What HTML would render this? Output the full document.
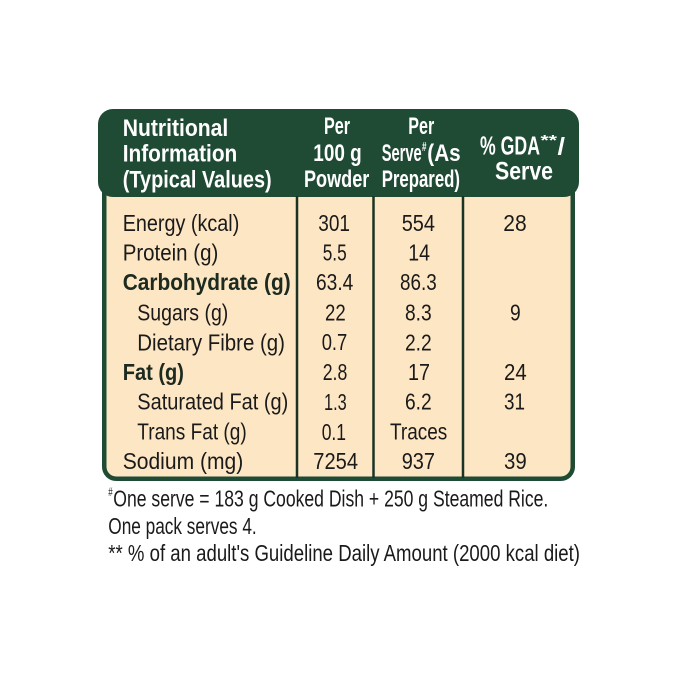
<!DOCTYPE html>
<html>
<head>
<meta charset="utf-8">
<style>
html,body{margin:0;padding:0;background:#ffffff;}
svg{display:block;}
text{font-family:"Liberation Sans",sans-serif;}
.h{font-weight:bold;font-size:24px;fill:#ffffff;}
.b{font-size:23px;fill:#1a1a1a;}
.bb{font-size:23px;font-weight:bold;fill:#1c2a1f;}
</style>
</head>
<body>
<svg width="679" height="679" viewBox="0 0 679 679" xmlns="http://www.w3.org/2000/svg">
<rect x="0" y="0" width="679" height="679" fill="#ffffff"/>
<!-- body -->
<path d="M104.25,180 V466.75 A12,12 0 0 0 116.25,478.75 H560.75 A12,12 0 0 0 572.75,466.75 V180 Z" fill="#fde6c3" stroke="#1f4a34" stroke-width="4.5"/>
<!-- header -->
<rect x="98" y="109" width="481" height="88" rx="15" ry="15" fill="#1f4a34"/>
<!-- dividers -->
<line x1="297" y1="196" x2="297" y2="478" stroke="#1a3325" stroke-width="2.5"/>
<line x1="373.5" y1="196" x2="373.5" y2="478" stroke="#1a3325" stroke-width="2.5"/>
<line x1="463" y1="196" x2="463" y2="478" stroke="#1a3325" stroke-width="2.5"/>

<!-- header text -->
<text class="h" x="122.7" y="136" textLength="105.6" lengthAdjust="spacingAndGlyphs">Nutritional</text>
<text class="h" x="122.7" y="161.7" textLength="114.6" lengthAdjust="spacingAndGlyphs">Information</text>
<text class="h" x="122.7" y="187.5" textLength="149" lengthAdjust="spacingAndGlyphs">(Typical Values)</text>

<text class="h" x="324" y="134" textLength="26" lengthAdjust="spacingAndGlyphs">Per</text>
<text class="h" x="313.3" y="161" textLength="48.4" lengthAdjust="spacingAndGlyphs">100 g</text>
<text class="h" x="304" y="187" textLength="65.3" lengthAdjust="spacingAndGlyphs">Powder</text>

<text class="h" x="408.3" y="134" textLength="26" lengthAdjust="spacingAndGlyphs">Per</text>
<text class="h" x="381.7" y="161" textLength="40" lengthAdjust="spacingAndGlyphs">Serve</text>
<text class="h" x="422" y="151" style="font-size:13px" textLength="4.5" lengthAdjust="spacingAndGlyphs">#</text>
<text class="h" x="427.3" y="161" textLength="33.4" lengthAdjust="spacingAndGlyphs">(As</text>
<text class="h" x="381.7" y="187" textLength="78.3" lengthAdjust="spacingAndGlyphs">Prepared)</text>

<text class="h" x="480" y="154.5" style="font-size:26px" textLength="60" lengthAdjust="spacingAndGlyphs">% GDA</text>
<text class="h" x="540.5" y="145" style="font-size:15px" textLength="16.5" lengthAdjust="spacingAndGlyphs">**</text>
<text class="h" x="557.5" y="154.5" style="font-size:24px" textLength="7.5" lengthAdjust="spacingAndGlyphs">/</text>
<text class="h" x="495" y="179.5" style="font-size:25px" textLength="58" lengthAdjust="spacingAndGlyphs">Serve</text>

<!-- labels -->
<text class="b" x="122.7" y="231" textLength="116.6" lengthAdjust="spacingAndGlyphs">Energy (kcal)</text>
<text class="b" x="122.7" y="260.5" textLength="95.6" lengthAdjust="spacingAndGlyphs">Protein (g)</text>
<text class="bb" x="122.7" y="290" textLength="168" lengthAdjust="spacingAndGlyphs">Carbohydrate (g)</text>
<text class="b" x="137.3" y="320.5" textLength="91" lengthAdjust="spacingAndGlyphs">Sugars (g)</text>
<text class="b" x="137.3" y="350.5" textLength="147.7" lengthAdjust="spacingAndGlyphs">Dietary Fibre (g)</text>
<text class="bb" x="122.7" y="380" textLength="61.3" lengthAdjust="spacingAndGlyphs">Fat (g)</text>
<text class="b" x="137.3" y="409.7" textLength="151" lengthAdjust="spacingAndGlyphs">Saturated Fat (g)</text>
<text class="b" x="137.3" y="439.3" textLength="109.4" lengthAdjust="spacingAndGlyphs">Trans Fat (g)</text>
<text class="b" x="122.7" y="469" textLength="120.6" lengthAdjust="spacingAndGlyphs">Sodium (mg)</text>

<!-- col 2 -->
<text class="b" x="318.3" y="231" textLength="31.7" lengthAdjust="spacingAndGlyphs">301</text>
<text class="b" x="322.7" y="260.7" textLength="24" lengthAdjust="spacingAndGlyphs">5.5</text>
<text class="b" x="316" y="290" textLength="37.3" lengthAdjust="spacingAndGlyphs">63.4</text>
<text class="b" x="325" y="320.3" textLength="20.7" lengthAdjust="spacingAndGlyphs">22</text>
<text class="b" x="321.7" y="350.2" textLength="25.6" lengthAdjust="spacingAndGlyphs">0.7</text>
<text class="b" x="322.7" y="380" textLength="24.6" lengthAdjust="spacingAndGlyphs">2.8</text>
<text class="b" x="324" y="410" textLength="22.7" lengthAdjust="spacingAndGlyphs">1.3</text>
<text class="b" x="321.7" y="439.8" textLength="24.3" lengthAdjust="spacingAndGlyphs">0.1</text>
<text class="b" x="313.3" y="469" textLength="44.7" lengthAdjust="spacingAndGlyphs">7254</text>

<!-- col 3 -->
<text class="b" x="401.7" y="231" textLength="33.3" lengthAdjust="spacingAndGlyphs">554</text>
<text class="b" x="408.3" y="260.5" textLength="21.7" lengthAdjust="spacingAndGlyphs">14</text>
<text class="b" x="400" y="290" textLength="36.7" lengthAdjust="spacingAndGlyphs">86.3</text>
<text class="b" x="405" y="320.5" textLength="26.7" lengthAdjust="spacingAndGlyphs">8.3</text>
<text class="b" x="405" y="350.5" textLength="26.7" lengthAdjust="spacingAndGlyphs">2.2</text>
<text class="b" x="408" y="380" textLength="22" lengthAdjust="spacingAndGlyphs">17</text>
<text class="b" x="405" y="409.7" textLength="26.7" lengthAdjust="spacingAndGlyphs">6.2</text>
<text class="b" x="390" y="439.3" textLength="57.3" lengthAdjust="spacingAndGlyphs">Traces</text>
<text class="b" x="401.7" y="469" textLength="33.3" lengthAdjust="spacingAndGlyphs">937</text>

<!-- col 4 -->
<text class="b" x="503.3" y="231" textLength="23.4" lengthAdjust="spacingAndGlyphs">28</text>
<text class="b" x="510" y="320.5" textLength="10.7" lengthAdjust="spacingAndGlyphs">9</text>
<text class="b" x="504" y="380" textLength="22.7" lengthAdjust="spacingAndGlyphs">24</text>
<text class="b" x="504" y="409.7" textLength="21" lengthAdjust="spacingAndGlyphs">31</text>
<text class="b" x="504" y="469" textLength="22.7" lengthAdjust="spacingAndGlyphs">39</text>

<!-- footer -->
<text class="b" x="108.3" y="496" style="font-size:12px" textLength="4.4" lengthAdjust="spacingAndGlyphs">#</text>
<text class="b" x="113.3" y="506.7" textLength="435" lengthAdjust="spacingAndGlyphs">One serve = 183 g Cooked Dish + 250 g Steamed Rice.</text>
<text class="b" x="108.3" y="534" textLength="148.4" lengthAdjust="spacingAndGlyphs">One pack serves 4.</text>
<text class="b" x="108.3" y="561" textLength="471.7" lengthAdjust="spacingAndGlyphs">** % of an adult's Guideline Daily Amount (2000 kcal diet)</text>
</svg>
</body>
</html>
